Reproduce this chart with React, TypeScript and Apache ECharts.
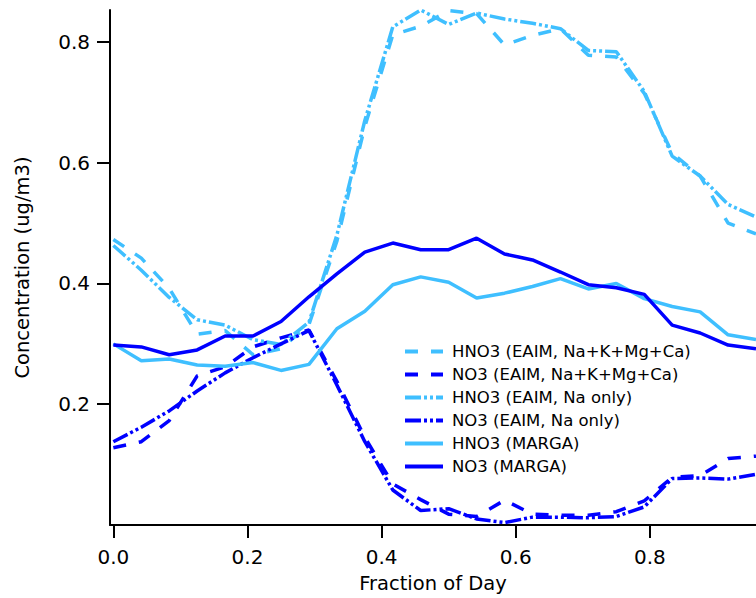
import React, { useEffect, useRef } from "react";
import * as echarts from "echarts";

const fractionOfDay = [
  0, 0.0417, 0.0833, 0.125, 0.1667, 0.2083, 0.25, 0.2917, 0.3333, 0.375, 0.4167, 0.4583,
  0.5, 0.5417, 0.5833, 0.625, 0.6667, 0.7083, 0.75, 0.7917, 0.8333, 0.875, 0.9167, 0.9583,
];

const hno3EaimFull = [
  0.473, 0.442, 0.392, 0.316, 0.322, 0.282, 0.292, 0.332, 0.47, 0.66, 0.812, 0.826,
  0.852, 0.847, 0.795, 0.811, 0.822, 0.778, 0.775, 0.715, 0.616, 0.578, 0.5, 0.482,
];
const no3EaimFull = [
  0.128, 0.138, 0.173, 0.247, 0.262, 0.295, 0.31, 0.323, 0.238, 0.145, 0.068, 0.042,
  0.018, 0.014, 0.041, 0.018, 0.016, 0.016, 0.022, 0.04, 0.079, 0.082, 0.11, 0.114,
];
const hno3EaimNa = [
  0.463, 0.422, 0.377, 0.34, 0.331, 0.307, 0.299, 0.336, 0.48, 0.67, 0.825, 0.853,
  0.829, 0.848, 0.838, 0.831, 0.822, 0.786, 0.784, 0.718, 0.611, 0.578, 0.531, 0.51,
];
const no3EaimNa = [
  0.138, 0.162, 0.189, 0.222, 0.252, 0.277, 0.3, 0.322, 0.232, 0.138, 0.058, 0.024,
  0.027, 0.01, 0.004, 0.013, 0.013, 0.012, 0.014, 0.03, 0.077, 0.078, 0.076, 0.084,
];
const hno3Marga = [
  0.3, 0.272, 0.275, 0.265, 0.263, 0.269, 0.256, 0.266, 0.325, 0.354, 0.398, 0.411,
  0.402, 0.376, 0.384, 0.395, 0.408, 0.391, 0.4, 0.375, 0.362, 0.353, 0.315, 0.307,
];
const no3Marga = [
  0.298, 0.295, 0.282, 0.29, 0.313, 0.313, 0.337, 0.378, 0.416, 0.452, 0.467, 0.456,
  0.456, 0.475, 0.449, 0.439, 0.419, 0.398, 0.393, 0.382, 0.331, 0.318, 0.298, 0.292,
];

const xTicks = [0, 0.2, 0.4, 0.6, 0.8];
const yTicks = [0.2, 0.4, 0.6, 0.8];

const seriesNames = [
  "HNO3 (EAIM, Na+K+Mg+Ca)",
  "NO3 (EAIM, Na+K+Mg+Ca)",
  "HNO3 (EAIM, Na only)",
  "NO3 (EAIM, Na only)",
  "HNO3 (MARGA)",
  "NO3 (MARGA)",
];

const LIGHT = "#3FBFFF";
const DARK = "#0000FF";
const FONT = "DejaVu Sans";

export default function App() {
  const ref = useRef<HTMLDivElement>(null);
  useEffect(() => {
    if (!ref.current) return;
    const chart = echarts.init(ref.current, null, { renderer: "svg" });
    const pairs = (ys: number[]) => fractionOfDay.map((x, i) => [x, ys[i]]);
    const dashed = [13, 13];
    const dashDotDot = [16, 3, 3, 3, 3, 3];
    const specs = [
      { data: hno3EaimFull, color: LIGHT, type: dashed },
      { data: no3EaimFull, color: DARK, type: dashed },
      { data: hno3EaimNa, color: LIGHT, type: dashDotDot },
      { data: no3EaimNa, color: DARK, type: dashDotDot },
      { data: hno3Marga, color: LIGHT, type: "solid" },
      { data: no3Marga, color: DARK, type: "solid" },
    ];
    const axisCommon = {
      type: "value",
      axisLine: { show: true, onZero: false, lineStyle: { color: "#000", width: 2 } },
      axisTick: { show: true, inside: false, length: 13, lineStyle: { color: "#000", width: 2 } },
      splitLine: { show: false },
      nameLocation: "middle",
      nameTextStyle: { fontFamily: FONT, fontSize: 19.5, color: "#000" },
    };
    chart.setOption({
      animation: false,
      backgroundColor: "#fff",
      grid: { left: 110, top: 10, right: -3, bottom: 69, containLabel: false },
      legend: {
        orient: "vertical",
        left: 403,
        top: 343,
        padding: 0,
        itemWidth: 38,
        itemHeight: 14,
        itemGap: 6,
        data: seriesNames,
        itemStyle: { opacity: 0, borderWidth: 0 },
        lineStyle: { width: 4 },
        textStyle: { fontFamily: FONT, fontSize: 16.5, color: "#000", padding: [0, 0, 0, 4] },
      },
      xAxis: {
        ...axisCommon,
        min: -0.005,
        max: 0.9583,
        name: "Fraction of Day",
        nameGap: 48,
        axisTick: { ...axisCommon.axisTick, customValues: xTicks },
        axisLabel: {
          customValues: xTicks,
          formatter: (v: number) => v.toFixed(1),
          margin: 22,
          fontFamily: FONT,
          fontSize: 20,
          color: "#000",
        },
      },
      yAxis: {
        ...axisCommon,
        min: 0,
        max: 0.853,
        name: "Concentration (ug/m3)",
        nameGap: 78,
        axisTick: { ...axisCommon.axisTick, customValues: yTicks },
        axisLabel: {
          customValues: yTicks,
          formatter: (v: number) => v.toFixed(1),
          margin: 20,
          fontFamily: FONT,
          fontSize: 20,
          color: "#000",
        },
      },
      series: specs.map((s, i) => ({
        name: seriesNames[i],
        type: "line",
        data: pairs(s.data),
        symbol: "none",
        showSymbol: false,
        clip: true,
        lineStyle: { color: s.color, width: 3.5, type: s.type },
        itemStyle: { color: s.color },
      })),
    });
    return () => chart.dispose();
  }, []);
  return (
    <div
      ref={ref}
      style={{ position: "absolute", left: 0, top: 0, width: 756, height: 598 }}
    />
  );
}
